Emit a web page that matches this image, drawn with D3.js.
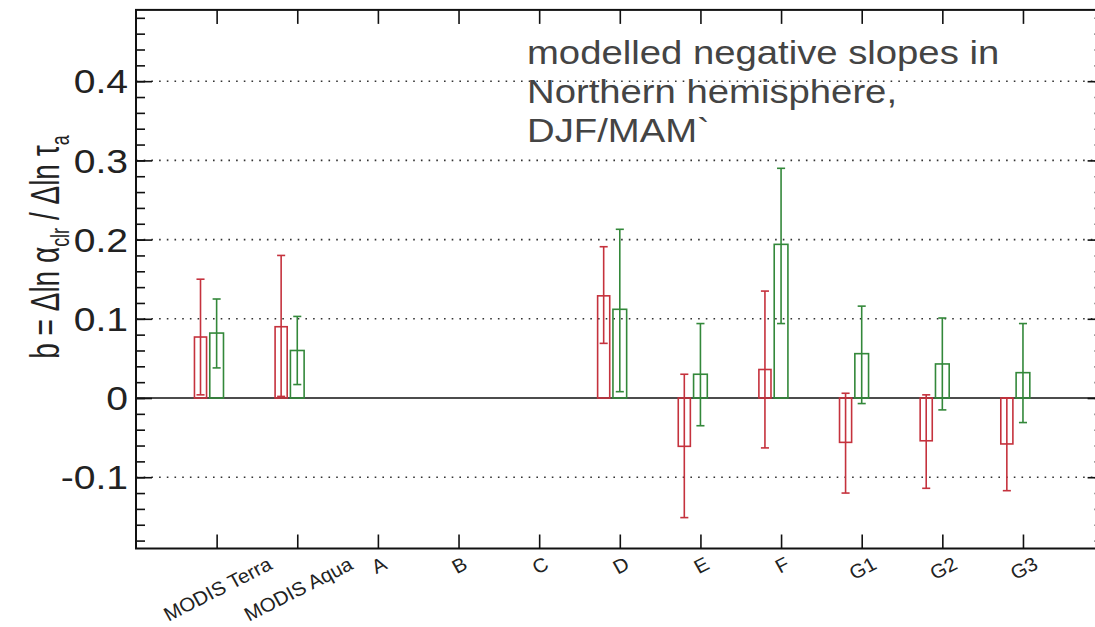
<!DOCTYPE html>
<html><head><meta charset="utf-8">
<script src="https://cdn.jsdelivr.net/npm/d3@7"></script>
<style>
html,body{margin:0;padding:0;background:#fff;}
svg{display:block;}
text{font-family:"Liberation Sans", Arial, Helvetica, sans-serif;}
</style></head><body>
<svg id="chart" width="1095" height="627"></svg>
<script>
// ---- data ----
const categories = ["MODIS Terra","MODIS Aqua","A","B","C","D","E","F","G1","G2","G3"];
const redValue  = [0.077, 0.090, null, null, null, 0.129, -0.061, 0.036, -0.056, -0.054, -0.058];
const redLow    = [0.004, 0.002, null, null, null, 0.069, -0.151, -0.063, -0.120, -0.114, -0.117];
const redHigh   = [0.150, 0.180, null, null, null, 0.191,  0.030,  0.135,  0.006,  0.004,  0.000];
const greenValue= [0.082, 0.060, null, null, null, 0.112,  0.030,  0.194,  0.056,  0.043,  0.032];
const greenLow  = [0.038, 0.017, null, null, null, 0.008, -0.035,  0.094, -0.007, -0.015, -0.031];
const greenHigh = [0.125, 0.103, null, null, null, 0.213,  0.094,  0.290,  0.116,  0.101,  0.094];
const yMajorTicks = [-0.1, 0, 0.1, 0.2, 0.3, 0.4];
const yTickLabels = ["-0.1","0","0.1","0.2","0.3","0.4"];
const gridValues = [-0.1, 0.1, 0.2, 0.3, 0.4];
const annotationLines = ["modelled negative slopes in","Northern hemisphere,","DJF/MAM`"];

// ---- layout ----
const svg = d3.select("#chart");
const x = d3.scaleLinear().domain([0, 12]).range([136, 1103.6]);
const y = d3.scaleLinear().domain([-0.19, 0.49]).range([548.5, 9.9]);
const SX = 1.15; // horizontal stretch of the original picture
const RED = "#c5323d", GREEN = "#33883a";
const catPos = categories.map((c,i)=>i+1);

// grid (dotted)
svg.append("g").selectAll("line").data(gridValues).join("line")
  .attr("x1", x(0)).attr("x2", x(12))
  .attr("y1", d=>y(d)).attr("y2", d=>y(d))
  .attr("stroke", "#333").attr("stroke-width", 1.6)
  .attr("stroke-dasharray", "1.6,6.1");

// zero line
svg.append("line").attr("x1", x(0)).attr("x2", x(12))
  .attr("y1", y(0)).attr("y2", y(0)).attr("stroke","#111").attr("stroke-width",1.6);

// y ticks (left / right)
const minor = d3.range(-18, 49, 2).map(v=>v/100);
function yTicks(axisFn, xpos, vals, len){
  svg.append("g").attr("transform",`translate(${xpos},0)`)
    .call(axisFn(y).tickValues(vals).tickSize(-len).tickFormat(""))
    .call(g=>g.select(".domain").remove())
    .selectAll("line").attr("stroke","#111").attr("stroke-width",1.6);
}
yTicks(d3.axisLeft, x(0), minor, 9);
yTicks(d3.axisLeft, x(0), yMajorTicks, 16);
yTicks(d3.axisRight, x(12), minor, 9);
yTicks(d3.axisRight, x(12), yMajorTicks, 16);

// x ticks top & bottom
svg.append("g").attr("transform",`translate(0,${y(0.49)})`)
  .call(d3.axisTop(x).tickValues(catPos).tickSize(-14).tickFormat(""))
  .call(g=>g.select(".domain").remove())
  .selectAll("line").attr("stroke","#111").attr("stroke-width",1.6);
svg.append("g").attr("transform",`translate(0,${y(-0.19)})`)
  .call(d3.axisBottom(x).tickValues(catPos).tickSize(-14).tickFormat(""))
  .call(g=>g.select(".domain").remove())
  .selectAll("line").attr("stroke","#111").attr("stroke-width",1.6);

// frame
svg.append("rect").attr("x", x(0)).attr("y", y(0.49))
  .attr("width", x(12)-x(0)).attr("height", y(-0.19)-y(0.49))
  .attr("fill","none").attr("stroke","#111").attr("stroke-width",2);

// y tick labels
svg.append("g").selectAll("text").data(yMajorTicks).join("text")
  .attr("transform", d=>`translate(${x(0)-8},${y(d)}) scale(${SX},1)`)
  .attr("text-anchor","end").attr("dy","0.36em")
  .attr("font-size", 34).attr("fill","#222")
  .text((d,i)=>yTickLabels[i]);

// bars
function drawSeries(vals, lows, highs, offset, width, color){
  const g = svg.append("g");
  const idx = vals.map((v,i)=>i).filter(i=>vals[i]!==null);
  g.selectAll("rect").data(idx).join("rect")
    .attr("x", i=>x(catPos[i]+offset-width/2))
    .attr("width", i=>x(catPos[i]+offset+width/2)-x(catPos[i]+offset-width/2))
    .attr("y", i=>y(Math.max(vals[i],0)))
    .attr("height", i=>Math.abs(y(vals[i])-y(0)))
    .attr("fill","none").attr("stroke",color).attr("stroke-width",1.6);
  g.selectAll("line.err").data(idx).join("line").attr("class","err")
    .attr("x1", i=>x(catPos[i]+offset)).attr("x2", i=>x(catPos[i]+offset))
    .attr("y1", i=>y(lows[i])).attr("y2", i=>y(highs[i]))
    .attr("stroke",color).attr("stroke-width",1.6);
  const caps = [];
  idx.forEach(i=>{caps.push([i,lows[i]]);caps.push([i,highs[i]]);});
  g.selectAll("line.cap").data(caps).join("line").attr("class","cap")
    .attr("x1", d=>x(catPos[d[0]]+offset-0.05)).attr("x2", d=>x(catPos[d[0]]+offset+0.05))
    .attr("y1", d=>y(d[1])).attr("y2", d=>y(d[1]))
    .attr("stroke",color).attr("stroke-width",1.6);
}
drawSeries(redValue, redLow, redHigh, -0.2, 0.15, RED);
drawSeries(greenValue, greenLow, greenHigh, 0, 0.17, GREEN);

// x labels (rotated)
const xl = svg.append("g");
categories.forEach((c,i)=>{
  const g = xl.append("g");
  const t = g.append("text").attr("font-size",19.5).attr("fill","#222")
    .attr("text-anchor","middle").attr("dy","0.35em").text(c);
  const w = t.node().getComputedTextLength();
  const ang = 28;
  const cy = 562 + (w/2)*1.05*Math.sin(27*Math.PI/180);
  g.attr("transform", `translate(${x(catPos[i])+1},${cy}) scale(1.05,1) rotate(${-ang})`);
});

// y title
const yt = svg.append("text")
  .attr("transform", `translate(59,247) scale(1.45,1) rotate(-90)`)
  .attr("text-anchor","middle").attr("font-size",28).attr("fill","#222");
yt.append("tspan").text("b = Δln α");
yt.append("tspan").attr("font-size",18).attr("dy",7).text("clr");
yt.append("tspan").attr("dy",-7).text(" / Δln τ");
yt.append("tspan").attr("font-size",18).attr("dy",7).text("a");

// annotation
svg.append("g").selectAll("text").data(annotationLines).join("text")
  .attr("transform", (d,i)=>`translate(527,${64+i*39}) scale(1.16,1)`)
  .attr("font-size",33).attr("fill","#444").text(d=>d);
</script>
</body></html>
